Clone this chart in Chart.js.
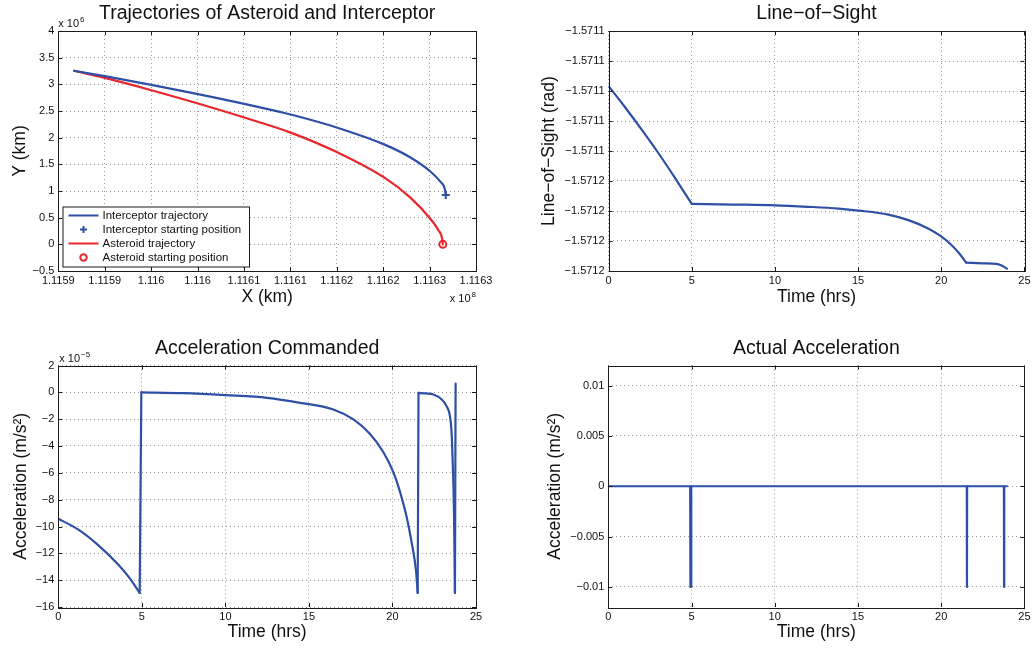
<!DOCTYPE html>
<html><head><meta charset="utf-8">
<script src="https://cdn.jsdelivr.net/npm/chart.js@4.4.0/dist/chart.umd.min.js"></script>
<style>
html,body{margin:0;padding:0;background:#fff;}
#wrap{position:relative;width:1034px;height:649px;overflow:hidden;background:#fff;}
canvas{position:absolute;display:block;}
</style></head><body>
<div id="wrap">
<canvas id="c1" width="517" height="324" style="left:0;top:0"></canvas>
<canvas id="c2" width="517" height="324" style="left:517px;top:0"></canvas>
<canvas id="c3" width="517" height="325" style="left:0;top:324px"></canvas>
<canvas id="c4" width="517" height="325" style="left:517px;top:324px"></canvas>
</div>
<script>
// ---------- DATA ----------
// Trajectories (km)
const interceptorX = [111591692, 111595000, 111600022, 111605054, 111611735, 111615043, 111620065, 111625097, 111627899, 111630054, 111631131, 111631670, 111631746];
const interceptorY = [3254000, 3153000, 2990000, 2817000, 2569000, 2434000, 2187000, 1874000, 1632000, 1370000, 1180000, 1020000, 923000];
const asteroidX = [111591692, 111595000, 111600022, 111605054, 111611735, 111615043, 111620065, 111625097, 111627899, 111630054, 111630949, 111631380, 111631423];
const asteroidY = [3254000, 3120000, 2890000, 2640000, 2285000, 2095000, 1725000, 1255000, 880000, 485000, 265000, 77000, 0];
const interceptorStart = [111631746, 923000];
const asteroidStart = [111631423, 0];
const trajXTicks = [111590000, 111595000, 111600000, 111605000, 111610000, 111615000, 111620000, 111625000, 111630000, 111635000];
const trajXTickLabels = ["1.1159", "1.1159", "1.116", "1.116", "1.1161", "1.1161", "1.1162", "1.1162", "1.1163", "1.1163"];
const trajYTicks = [-500000, 0, 500000, 1000000, 1500000, 2000000, 2500000, 3000000, 3500000, 4000000];
const trajYTickLabels = ["\u22120.5", "0", "0.5", "1", "1.5", "2", "2.5", "3", "3.5", "4"];

// Line-of-sight (rad) vs time (hrs)
const losTime = [0, 1, 2, 3, 4, 5, 7.5, 10, 12, 13.83, 15.03, 16.82, 18.02, 19.21, 19.91, 20.6, 21.1, 21.5, 22.5, 23.3, 23.6, 23.95];
const losValue = [-1.5710967, -1.5711110, -1.5711259, -1.5711415, -1.5711581, -1.5711753, -1.5711757, -1.5711762, -1.5711772, -1.5711784, -1.5711797, -1.5711824, -1.5711861, -1.5711916, -1.5711963, -1.5712025, -1.5712085, -1.5712144, -1.5712149, -1.5712153, -1.5712162, -1.5712184];
const losBreaks = [0, 5, 17, 21];   // indices of the sharp corners
const losYTicks = [-1.57122, -1.57120, -1.57118, -1.57116, -1.57114, -1.57112, -1.57110, -1.57108, -1.57106];
const losYTickLabels = ["\u22121.5712", "\u22121.5712", "\u22121.5712", "\u22121.5712", "\u22121.5711", "\u22121.5711", "\u22121.5711", "\u22121.5711", "\u22121.5711"];

// Commanded acceleration (m/s^2)
const cmdTime = [0, 1.18, 2.37, 3.57, 4.27, 4.87, 4.97, 7.5, 10, 12.5, 14.47, 16.46, 17.66, 18.66, 19.45, 20.05, 20.45, 20.85, 21.15, 21.41, 21.51, 21.56, 22.0, 22.45, 22.95, 23.24, 23.44, 23.54, 23.6, 23.68, 23.74, 23.78];
const cmdAccel = [-9.42e-5, -10.22e-5, -11.37e-5, -12.82e-5, -13.85e-5, -14.95e-5, 0.0, -0.06e-5, -0.21e-5, -0.41e-5, -0.78e-5, -1.28e-5, -2.02e-5, -3.10e-5, -4.45e-5, -5.95e-5, -7.40e-5, -9.30e-5, -11.20e-5, -13.30e-5, -14.95e-5, -0.04e-5, -0.08e-5, -0.16e-5, -0.53e-5, -1.03e-5, -1.77e-5, -3.01e-5, -5.0e-5, -8.73e-5, -14.95e-5, 0.66e-5];
const cmdBreaks = [0, 5, 6, 20, 21, 30, 31];
const cmdYTicks = [-16e-5, -14e-5, -12e-5, -10e-5, -8e-5, -6e-5, -4e-5, -2e-5, 0, 2e-5];
const cmdYTickLabels = ["\u221216", "\u221214", "\u221212", "\u221210", "\u22128", "\u22126", "\u22124", "\u22122", "0", "2"];

// Actual acceleration (m/s^2)
const actTime = [0, 4.92, 4.93, 4.94, 4.97, 4.98, 4.99, 21.54, 21.55, 21.56, 23.77, 23.78, 23.79, 23.95];
const actAccel = [0, 0, -0.01, 0, 0, -0.01, 0, 0, -0.01, 0, 0, -0.01, 0, 0];
const actYTicks = [-0.01, -0.005, 0, 0.005, 0.01];
const actYTickLabels = ["\u22120.01", "\u22120.005", "0", "0.005", "0.01"];

const timeTicks = [0, 5, 10, 15, 20, 25];
const timeTickLabels = ["0", "5", "10", "15", "20", "25"];

// ---------- STYLE ----------
const FONT = "'Liberation Sans', Arial, Helvetica, sans-serif";
const BLUE = '#2e4fa6';
const RED = '#e8262b';
const TEXT = '#111111';
const GRID = '#9a9a9a';
const LW = 2.2;

function pts(xs, ys) { return xs.map((x, i) => ({x: x, y: ys[i]})); }

function axis(o) {
  return {
    type: 'linear', min: o.min, max: o.max,
    afterBuildTicks: (s) => { s.ticks = o.ticks.map(v => ({value: v})); },
    afterFit: (s) => { if (o.isX) s.height = o.size; else s.width = o.size; },
    ticks: { autoSkip: false, maxRotation: 0, minRotation: 0, padding: o.isX ? 3.5 : 4, color: TEXT,
             font: {family: FONT, size: 11}, callback: (v, i) => o.labels[i] },
    grid: { color: GRID, lineWidth: 1, drawTicks: false },
    border: { display: false, dash: [1, 3] },
    title: { display: true, text: o.title, color: TEXT, font: {family: FONT, size: 17.5},
             padding: o.isX ? {top: 0, bottom: o.tpad} : {top: o.tpad, bottom: 0} }
  };
}

function drawMult(ctx, x, y, base, exp, alignRight) {
  ctx.font = '11px ' + FONT;
  const w1 = ctx.measureText(base).width;
  ctx.font = '8px ' + FONT;
  const w2 = ctx.measureText(exp).width;
  const x0 = alignRight ? x - w1 - w2 - 1 : x;
  ctx.fillStyle = TEXT; ctx.textAlign = 'left'; ctx.textBaseline = 'alphabetic';
  ctx.font = '11px ' + FONT; ctx.fillText(base, x0, y);
  ctx.font = '8px ' + FONT; ctx.fillText(exp, x0 + w1 + 1, y - 5);
}

const framePlugin = {
  id: 'matlabFrame',
  afterDatasetsDraw(chart, args, opts) {
    const ctx = chart.ctx, a = chart.chartArea, sx = chart.scales.x, sy = chart.scales.y;
    ctx.save();
    ctx.strokeStyle = '#1a1a1a'; ctx.lineWidth = 1;
    const L = 4;
    ctx.beginPath();
    sx.ticks.forEach(t => {
      const p = Math.round(sx.getPixelForValue(t.value)) + 0.5;
      ctx.moveTo(p, a.bottom); ctx.lineTo(p, a.bottom - L);
      ctx.moveTo(p, a.top); ctx.lineTo(p, a.top + L);
    });
    sy.ticks.forEach(t => {
      const p = Math.round(sy.getPixelForValue(t.value)) + 0.5;
      ctx.moveTo(a.left, p); ctx.lineTo(a.left + L, p);
      ctx.moveTo(a.right, p); ctx.lineTo(a.right - L, p);
    });
    ctx.stroke();
    ctx.strokeRect(Math.round(a.left) + 0.5, Math.round(a.top) + 0.5, Math.round(a.right - a.left), Math.round(a.bottom - a.top));
    (opts.mults || []).forEach(m => drawMult(ctx, m.x, m.y, m.base, m.exp, m.right));
    if (opts.legend) {
      const lg = opts.legend;
      ctx.fillStyle = '#fff';
      ctx.fillRect(lg.x, lg.y, lg.w, lg.h);
      ctx.strokeStyle = '#1a1a1a'; ctx.lineWidth = 1;
      ctx.strokeRect(lg.x + 0.5, lg.y + 0.5, lg.w, lg.h);
      lg.items.forEach((it, i) => {
        const yy = lg.y + 9 + i * 14;
        ctx.strokeStyle = it.color; ctx.lineWidth = 2;
        ctx.beginPath();
        if (it.kind === 'line') { ctx.moveTo(lg.x + 6, yy); ctx.lineTo(lg.x + 36, yy); }
        else if (it.kind === 'plus') { const cx = lg.x + 21; ctx.moveTo(cx - 3.5, yy); ctx.lineTo(cx + 3.5, yy); ctx.moveTo(cx, yy - 3.5); ctx.lineTo(cx, yy + 3.5); }
        else { ctx.arc(lg.x + 21, yy, 3.2, 0, Math.PI * 2); }
        ctx.stroke();
        ctx.fillStyle = TEXT; ctx.font = '11.5px ' + FONT; ctx.textAlign = 'left'; ctx.textBaseline = 'middle';
        ctx.fillText(it.label, lg.x + 40, yy + 0.5);
      });
    }
    ctx.restore();
  }
};

function baseOptions(o) {
  return {
    responsive: false, animation: false, events: [],
    layout: { padding: o.padding },
    plugins: {
      legend: { display: false }, tooltip: { enabled: false },
      title: { display: true, text: o.title, fullSize: false, color: TEXT,
               font: {family: FONT, size: 19.5, weight: 'normal'}, padding: o.titlePad },
      matlabFrame: o.frame || {}
    },
    scales: { x: o.x, y: o.y }
  };
}

function lineDs(label, data, color, mono) {
  return { label: label, data: data, borderColor: color, backgroundColor: color, borderWidth: LW,
           pointRadius: 0, fill: false, tension: 0, borderCapStyle: 'round', borderJoinStyle: 'round',
           cubicInterpolationMode: mono ? 'monotone' : 'default' };
}

// smooth pieces between sharp corners, each interpolated on its own
function pieces(label, xs, ys, breaks, color) {
  const out = [];
  for (let i = 0; i < breaks.length - 1; i++) {
    const a = breaks[i], b = breaks[i + 1] + 1;
    out.push(lineDs(label, pts(xs.slice(a, b), ys.slice(a, b)), color, true));
  }
  return out;
}

// ---------- CHART 1: trajectories ----------
new Chart(document.getElementById('c1'), {
  type: 'line',
  data: { datasets: [
    { label: 'Asteroid starting position', data: [{x: asteroidStart[0], y: asteroidStart[1]}], showLine: false,
      pointStyle: 'circle', pointRadius: 3.5, borderWidth: 2, pointBorderColor: RED, pointBackgroundColor: 'rgba(0,0,0,0)', borderColor: RED },
    { label: 'Interceptor starting position', data: [{x: interceptorStart[0], y: interceptorStart[1]}], showLine: false,
      pointStyle: 'cross', pointRadius: 4, borderWidth: 2, pointBorderColor: BLUE, borderColor: BLUE },
    lineDs('Interceptor trajectory', pts(interceptorX, interceptorY), BLUE, true),
    lineDs('Asteroid trajectory', pts(asteroidX, asteroidY), RED, true)
  ]},
  options: baseOptions({
    title: 'Trajectories of Asteroid and Interceptor',
    padding: {left: 0, top: 0, right: 41, bottom: 13},
    titlePad: {top: 2, bottom: 5.6},
    x: axis({isX: true, min: 111590000, max: 111635000, ticks: trajXTicks, labels: trajXTickLabels, title: 'X (km)', size: 40, tpad: 3}),
    y: axis({isX: false, min: -500000, max: 4000000, ticks: trajYTicks, labels: trajYTickLabels, title: 'Y (km)', size: 58.3, tpad: 10}),
    frame: {
      mults: [{x: 58.3, y: 26.5, base: 'x 10', exp: '6'}, {x: 476, y: 301.5, base: 'x 10', exp: '8', right: true}],
      legend: {x: 62.5, y: 206.5, w: 186.5, h: 60, items: [
        {label: 'Interceptor trajectory', kind: 'line', color: BLUE},
        {label: 'Interceptor starting position', kind: 'plus', color: BLUE},
        {label: 'Asteroid trajectory', kind: 'line', color: RED},
        {label: 'Asteroid starting position', kind: 'circle', color: RED}
      ]}
    }
  }),
  plugins: [framePlugin]
});

// ---------- CHART 2: line of sight ----------
new Chart(document.getElementById('c2'), {
  type: 'line',
  data: { datasets: pieces('Line-of-Sight', losTime, losValue, losBreaks, BLUE) },
  options: baseOptions({
    title: 'Line\u2212of\u2212Sight',
    padding: {left: 0, top: 0, right: 7, bottom: 13},
    titlePad: {top: 2, bottom: 5.6},
    x: axis({isX: true, min: 0, max: 25, ticks: timeTicks, labels: timeTickLabels, title: 'Time (hrs)', size: 40, tpad: 3}),
    y: axis({isX: false, min: -1.57122, max: -1.57106, ticks: losYTicks, labels: losYTickLabels, title: 'Line\u2212of\u2212Sight (rad)', size: 91.6, tpad: 21.5})
  }),
  plugins: [framePlugin]
});

// ---------- CHART 3: commanded acceleration ----------
new Chart(document.getElementById('c3'), {
  type: 'line',
  data: { datasets: pieces('Acceleration Commanded', cmdTime, cmdAccel, cmdBreaks, BLUE) },
  options: baseOptions({
    title: 'Acceleration Commanded',
    padding: {left: 0, top: 0, right: 41, bottom: 2},
    titlePad: {top: 12.6, bottom: 5.5},
    x: axis({isX: true, min: 0, max: 25, ticks: timeTicks, labels: timeTickLabels, title: 'Time (hrs)', size: 40, tpad: 4.5}),
    y: axis({isX: false, min: -16e-5, max: 2e-5, ticks: cmdYTicks, labels: cmdYTickLabels, title: 'Acceleration (m/s\u00B2)', size: 58.3, tpad: 10.3}),
    frame: { mults: [{x: 59.3, y: 38, base: 'x 10', exp: '\u22125'}] }
  }),
  plugins: [framePlugin]
});

// ---------- CHART 4: actual acceleration ----------
new Chart(document.getElementById('c4'), {
  type: 'line',
  data: { datasets: [ lineDs('Actual Acceleration', pts(actTime, actAccel), BLUE, false) ] },
  options: baseOptions({
    title: 'Actual Acceleration',
    padding: {left: 0, top: 0, right: 8, bottom: 2},
    titlePad: {top: 12.6, bottom: 5.5},
    x: axis({isX: true, min: 0, max: 25, ticks: timeTicks, labels: timeTickLabels, title: 'Time (hrs)', size: 40, tpad: 4.5}),
    y: axis({isX: false, min: -0.012, max: 0.012, ticks: actYTicks, labels: actYTickLabels, title: 'Acceleration (m/s\u00B2)', size: 91.3, tpad: 27.5})
  }),
  plugins: [framePlugin]
});
</script>
</body></html>
